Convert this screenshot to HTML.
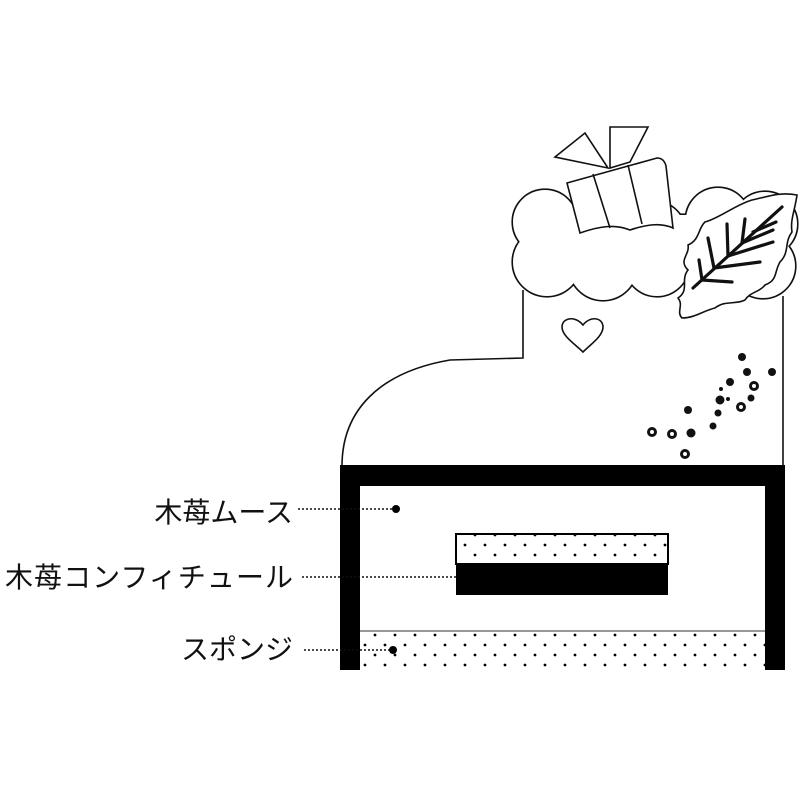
<!DOCTYPE html>
<html><head><meta charset="utf-8"><style>
html,body{margin:0;padding:0;background:#fff;}
svg{display:block;}
text{font-family:"Liberation Sans","Noto Sans CJK JP",sans-serif;font-size:28px;fill:#111;}
</style></head><body>
<svg width="800" height="800" viewBox="0 0 800 800" xmlns="http://www.w3.org/2000/svg">
<defs>
<pattern id="dots" x="0" y="0" width="20" height="20" patternUnits="userSpaceOnUse">
<circle cx="5" cy="5" r="1.4" fill="#000"/>
<circle cx="15" cy="15" r="1.4" fill="#000"/>
</pattern>
<g id="cl">
<circle cx="545" cy="222" r="32"/><circle cx="547" cy="262" r="34"/><circle cx="603" cy="266" r="34"/>
<circle cx="657" cy="264" r="32"/><circle cx="605" cy="230" r="34"/><circle cx="655" cy="232" r="30"/>
<circle cx="718" cy="220" r="32"/><circle cx="765" cy="224" r="32"/><circle cx="763" cy="266" r="32"/>
<circle cx="712" cy="266" r="30"/><circle cx="690" cy="245" r="30"/>
<rect x="540" y="215" width="230" height="60"/>
</g>
</defs>
<g fill="none" stroke="#111" stroke-width="1.6">
<path d="M342,466 C342,410 380,372 450,360 L523,358 L523,290"/>
<path d="M783,296 L783,466"/>
</g>
<use href="#cl" fill="#fff" stroke="#111" stroke-width="3.2"/>
<use href="#cl" fill="#fff" stroke="none"/>
<g fill="none" stroke="#111" stroke-width="1.6">
<path d="M567,183 L657,158 Q664,158 666,166 L673,228 C660,222 645,225 630,230 C615,224 600,226 580,233 Z" fill="#fff"/>
<path d="M593,174 L610,228 M628,165 L642,224"/>
<path d="M555,157 L585,133 L608,168 Z" fill="#fff"/>
<path d="M610,127 L648,127 L630,162 L610,168 Z" fill="#fff"/>
<path d="M682,318 C676,312 684,305 678,298 C690,290 680,280 688,270 C678,260 690,255 688,245 C700,240 698,228 705,222 C720,218 735,205 752,200 C770,196 780,192 797,195 C795,210 790,220 792,232 C784,242 790,252 780,262 C774,272 778,280 765,285 C760,292 750,292 745,300 C735,305 725,300 715,308 C705,310 695,318 682,318 Z" fill="#fff"/>
<path d="M583,352 C575,344 562,336 562,327 C562,318 575,315 583,325 C591,315 603,318 603,327 C603,336 591,344 583,352 Z"/>
</g>
<g fill="none" stroke="#111" stroke-width="3.2" stroke-linecap="round">
<path d="M693,288 L782,207"/>
<path d="M702,280 L732,282 M714,268 L760,262 M728,256 L773,242 M742,243 L773,230 M753,232 L776,222"/>
<path d="M702,280 L699,260 M714,268 L708,238 M728,256 L727,224 M742,243 L745,219"/>
</g>
<g fill="#111">
<circle cx="742" cy="357" r="4"/><circle cx="747" cy="372" r="4"/><circle cx="772" cy="372" r="4"/>
<circle cx="730" cy="382" r="4"/><circle cx="720" cy="400" r="4.5"/><circle cx="751" cy="398" r="3.5"/>
<circle cx="721" cy="389" r="2"/><circle cx="728" cy="399" r="2"/><circle cx="718" cy="413" r="3.5"/>
<circle cx="688" cy="410" r="4"/><circle cx="713" cy="426" r="3.5"/><circle cx="691" cy="433" r="4.5"/>
</g>
<g fill="none" stroke="#111" stroke-width="3">
<circle cx="754" cy="386" r="3.5"/><circle cx="741" cy="407" r="3.5"/><circle cx="652" cy="432" r="3.5"/>
<circle cx="672" cy="434" r="3.5"/><circle cx="685" cy="454" r="3.5"/>
</g>
<rect x="360" y="486" width="405" height="184" fill="#fff"/>
<path d="M340,670 L340,465 L785,465 L785,670 L765,670 L765,486 L360,486 L360,670 Z" fill="#000"/>
<rect x="360" y="631" width="405" height="39" fill="url(#dots)"/>
<line x1="360" y1="631" x2="765" y2="631" stroke="#777" stroke-width="1.5"/>
<rect x="456" y="534" width="212" height="30" fill="url(#dots)" stroke="#000" stroke-width="2"/>
<rect x="456" y="564" width="212" height="31" fill="#000"/>
<g stroke="#111" stroke-width="1.5" stroke-dasharray="2,2">
<line x1="298" y1="509" x2="396" y2="509"/>
<line x1="302" y1="577" x2="456" y2="577"/>
<line x1="304" y1="650" x2="392" y2="650"/>
</g>
<circle cx="396" cy="509" r="4" fill="#000"/>
<circle cx="393" cy="650" r="4" fill="#000"/>
<text x="293" y="522" text-anchor="end">木苺ムース</text>
<text x="293" y="587" text-anchor="end" textLength="288">木苺コンフィチュール</text>
<text x="293" y="659" text-anchor="end">スポンジ</text>
</svg>
</body></html>
